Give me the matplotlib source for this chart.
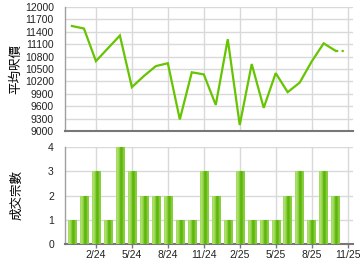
import matplotlib
matplotlib.use("Agg")
import matplotlib.pyplot as plt
import numpy as np

months = ["12/23", "1/24", "2/24", "3/24", "4/24", "5/24", "6/24", "7/24", "8/24",
          "9/24", "10/24", "11/24", "12/24", "1/25", "2/25", "3/25", "4/25", "5/25",
          "6/25", "7/25", "8/25", "9/25", "10/25", "11/25"]
avg_price = [11540, 11480, 10690, 11000, 11310, 10060, 10330, 10570, 10640,
             9280, 10420, 10370, 9630, 11220, 9145, 10620, 9560, 10400,
             9940, 10170, 10680, 11120, 10940]
deals = [1, 2, 3, 1, 4, 3, 2, 2, 2, 1, 1, 3, 2, 1, 3, 1, 1, 1, 2, 3, 1, 3, 2]
tick_labels = ["2/24", "5/24", "8/24", "11/24", "2/25", "5/25", "8/25", "11/25"]
price_ticks = list(range(9000, 12001, 300))
deal_ticks = [0, 1, 2, 3, 4]

plt.rcParams['font.family'] = ['Liberation Sans', 'Noto Sans CJK TC', 'DejaVu Sans']

fig = plt.figure(figsize=(3.6, 2.7), dpi=100)
ax1 = fig.add_axes([65/360, 1-131/270, 288/360, 124/270])
ax2 = fig.add_axes([65/360, 1-244/270, 288/360, 97/270])

x = np.arange(len(months))
tick_pos = [months.index(t) for t in tick_labels]
xlim = (-0.58, len(months) - 1 + 0.45)

grid_c = "#d9d9d9"
line_c = "#66c400"

for ax in (ax1, ax2):
    ax.set_xlim(*xlim)
    ax.set_xticks(tick_pos)
    ax.grid(True, color=grid_c, linewidth=1)
    ax.set_axisbelow(True)
    for s in ("top", "right"):
        ax.spines[s].set_visible(False)
    ax.spines["left"].set_color("#a0a0a0")
    ax.spines["left"].set_linewidth(1)
    ax.spines["bottom"].set_color("#777777")
    ax.spines["bottom"].set_linewidth(1.5)
    ax.tick_params(axis="y", length=0, labelsize=7.5, pad=8, colors="#222222")

# price line
n = len(avg_price)
ax1.plot(x[:n], avg_price, color=line_c, linewidth=1.6, solid_joinstyle="miter")
ax1.plot([x[n-1], x[n-1] + 0.75], [avg_price[-1], avg_price[-1]], color=line_c,
         linewidth=1.6, linestyle=(0, (1, 1.5)))
ax1.set_ylim(9000, 12000)
ax1.set_yticks(price_ticks)
ax1.tick_params(axis="x", length=0, labelbottom=False)
ax1.set_ylabel("平均呎價", fontsize=9, family=['Noto Sans CJK TC', 'DejaVu Sans'], labelpad=2)

# deal bars with gradient
bw = 0.7
bars = ax2.bar(x[:len(deals)], deals, width=bw, color="#7ccc2a", edgecolor="none", zorder=2)
grad = np.linspace(0, 1, 64)
prof = np.interp(grad, [0, 0.1, 0.35, 0.55, 0.75, 0.9, 1.0], [0.55, 0.85, 0.55, 0.0, 0.2, 0.6, 0.35])
light = np.array([0.78, 0.93, 0.55])
dark = np.array([0.33, 0.70, 0.0])
img = (dark[None, :] * (1 - prof[:, None]) + light[None, :] * prof[:, None])[None, :, :]
for b in bars:
    bx, by = b.get_x(), b.get_y()
    w, h = b.get_width(), b.get_height()
    im = ax2.imshow(img, extent=[bx, bx + w, by, by + h], aspect="auto", zorder=3,
                    interpolation="bilinear")
    im.set_clip_path(b)
ax2.set_xlim(*xlim)
ax2.set_ylim(0, 4)
ax2.set_yticks(deal_ticks)
ax2.set_xticklabels(tick_labels)
ax2.tick_params(axis="x", length=3, width=1, color="#777777", labelsize=7.5, pad=1.5)
for lab in ax2.get_xticklabels():
    lab.set_color("#222222")
ax2.set_ylabel("成交宗數", fontsize=9, family=['Noto Sans CJK TC', 'DejaVu Sans'], labelpad=18)

fig.savefig("out.png", dpi=100)
